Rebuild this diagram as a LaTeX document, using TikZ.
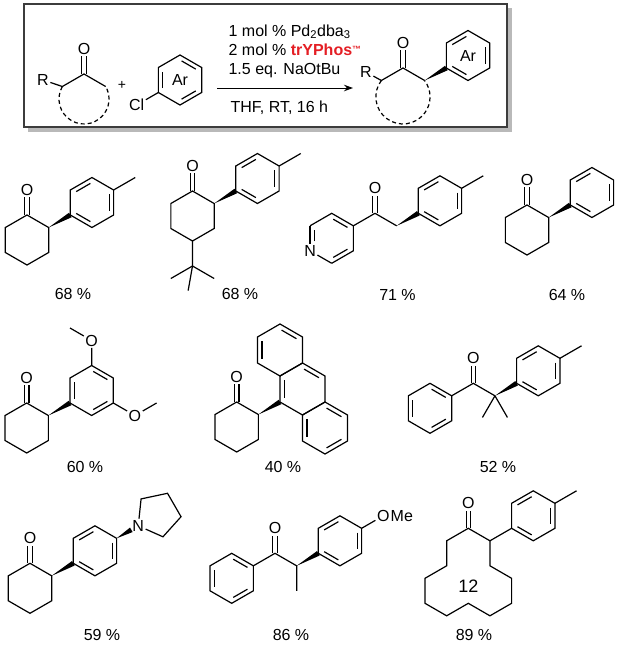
\documentclass[tikz,border=0pt]{standalone}
\usepackage{fontspec}
\setmainfont{Liberation Sans}
\usetikzlibrary{calc,arrows.meta}
\definecolor{tred}{RGB}{228,30,36}
\definecolor{boxline}{RGB}{60,60,60}
\definecolor{shadowc}{RGB}{185,185,185}
\newcommand\hexa[4]{%
 \coordinate (#1c) at (#2,#3);
 \coordinate (#11) at ($(#1c)+(-90:#4)$);
 \coordinate (#12) at ($(#1c)+(-30:#4)$);
 \coordinate (#13) at ($(#1c)+(30:#4)$);
 \coordinate (#14) at ($(#1c)+(90:#4)$);
 \coordinate (#15) at ($(#1c)+(150:#4)$);
 \coordinate (#16) at ($(#1c)+(210:#4)$);}
\newcommand\hring[1]{\draw (#11)--(#12)--(#13)--(#14)--(#15)--(#16)--cycle;}
\newcommand\arin[3]{\draw[shorten <=1.8pt,shorten >=1.8pt] ($(#3)!0.8!(#1)$) -- ($(#3)!0.8!(#2)$);}
\newcommand\ringA[1]{\arin{#16}{#11}{#1c}\arin{#12}{#13}{#1c}\arin{#14}{#15}{#1c}}
\newcommand\ringB[1]{\arin{#15}{#16}{#1c}\arin{#11}{#12}{#1c}\arin{#13}{#14}{#1c}}
\newcommand\wdg[2]{\fill (#1) -- ($(#2)!2.6pt!90:(#1)$) -- ($(#2)!2.6pt!-90:(#1)$) -- cycle;}
\newcommand\cdbl[2]{\draw ($(#1)+(-2.2,0)$) -- ($(#2.south)+(-2.2,0)$); \draw ($(#1)+(2.2,0)$) -- ($(#2.south)+(2.2,0)$);}
\begin{document}
\begin{tikzpicture}[x=1pt,y=-1pt,line width=1.2pt,
  every node/.style={font=\fontsize{16}{19}\selectfont,inner sep=1pt},
  yield/.style={font=\fontsize{16}{19}\selectfont},
  dashring/.style={dash pattern=on 4pt off 3pt}]
\useasboundingbox (0,0) rectangle (620,649);
% ---------- box ----------
\fill[shadowc] (28,127) rectangle (512,132);
\fill[shadowc] (507,8) rectangle (512,132);
\draw[boxline] (24,4) rectangle (507,127);
% reactant ketone
\coordinate (rc) at (84,74);
\node (ro) at (84,49) {O};
\cdbl{rc}{ro}
\coordinate (rl) at ($(rc)+(150:25)$);
\coordinate (rr) at ($(rc)+(30:25)$);
\node (rR) at (43,80) {R};
\draw (rR) -- (rl) -- (rc) -- (rr);
\draw[dashring] (rl) arc[start angle=210,end angle=-30,radius=25];
\node (plus) at (122,85) {\fontsize{14}{14}\selectfont +};
% chlorobenzene
\hexa{cb}{180}{80}{25}
\hring{cb}\ringB{cb}
\node (cl) at ($(cb5)+(150:25)$) {Cl};
\draw (cb5) -- (cl);
\node (arA) at (cbc) {Ar};
% arrow and conditions
\coordinate (arrS) at (217,88);
\coordinate (arrE) at (353,88);
\draw[line width=1pt,-{Stealth[length=9pt,width=6.5pt]}] (arrS) -- (arrE);
\node[anchor=base west] (t1) at (227,36) {1 mol \% Pd\textsubscript{2}dba\textsubscript{3}};
\node[anchor=base west] (t2) at (227,55) {2 mol \% \textcolor{tred}{\textbf{trYPhos}\raisebox{3pt}{\fontsize{9}{9}\selectfont\textbf{™}}}};
\node[anchor=base west] (t3) at (227,74) {1.5 eq. NaOtBu};
\node[anchor=base west] (t4) at (229,112.5) {THF, RT, 16 h};
% product
\coordinate (pc0) at (403,68);
\node (po) at (403,43) {O};
\cdbl{pc0}{po}
\coordinate (pl) at ($(pc0)+(150:25)$);
\coordinate (pr) at ($(pc0)+(30:25)$);
\node (pR) at (366,72) {R};
\draw (pR) -- (pl) -- (pc0) -- (pr);
\draw[dashring] (pl) arc[start angle=217.15,end angle=-37.15,radius=27.1];
\hexa{pa}{468}{55.5}{25}
\hring{pa}\ringA{pa}
\wdg{pr}{pa5}
\node (arB) at (pac) {Ar};
% ---------- compound 1 ----------
\hexa{p}{27}{240}{25}\hring{p}
\node (o1) at (27,190) {O}; \cdbl{p1}{o1}
\hexa{q}{91.95}{202.5}{25}\hring{q}\ringA{q}
\wdg{p2}{q5}
\coordinate (m1) at ($(q2)+(-30:25)$); \draw (q2) -- (m1);
\node[yield] (y1) at (73,294) {68 \%};
% ---------- compound 2 ----------
\hexa{r}{192.5}{216}{25}\hring{r}
\node (o2) at (192.5,166) {O}; \cdbl{r1}{o2}
\hexa{s}{257.45}{178.5}{25}\hring{s}\ringA{s}
\wdg{r2}{s5}
\coordinate (m2) at ($(s2)+(-30:25)$); \draw (s2) -- (m2);
\coordinate (tb) at ($(r4)+(90:25)$);
\coordinate (tb1) at ($(tb)+(150:25)$);
\coordinate (tb2) at ($(tb)+(30:25)$);
\coordinate (tb3) at ($(tb)+(100:25)$);
\draw (r4) -- (tb) -- (tb1); \draw (tb) -- (tb2); \draw (tb) -- (tb3);
\node[yield] (y2) at (240,294) {68 \%};
% ---------- compound 3 ----------
\coordinate (c3) at (375,213.3);
\node (o3) at (375,188.3) {O}; \cdbl{c3}{o3}
\coordinate (pyc) at (331.7,238.3);
\coordinate (py1) at (331.7,213.3);
\coordinate (py2) at (353.35,225.8);
\coordinate (py3) at (353.35,250.8);
\coordinate (py4) at (331.7,263.3);
\coordinate (py5) at (310.05,250.8);
\coordinate (py6) at (310.05,225.8);
\node (n3) at (py5) {N};
\draw (py4) -- (py3) -- (py2) -- (py1) -- (py6);
\draw (py6) -- (n3);
\draw (n3) -- (py4);
\arin{py1}{py2}{pyc}\arin{py3}{py4}{pyc}
\draw[shorten <=7pt,shorten >=1.8pt] ($(pyc)!0.8!(py5)$) -- ($(pyc)!0.8!(py6)$);
\draw (py2) -- (c3);
\coordinate (ch2) at ($(c3)+(30:25)$); \draw (c3) -- (ch2);
\hexa{v}{439.95}{200.8}{25}\hring{v}\ringA{v}
\wdg{ch2}{v5}
\coordinate (m3) at ($(v2)+(-30:25)$); \draw (v2) -- (m3);
\node[yield] (y3) at (397.5,295) {71 \%};
% ---------- compound 4 ----------
\hexa{w}{527}{230}{25}\hring{w}
\node (o4) at (527,180) {O}; \cdbl{w1}{o4}
\hexa{x}{591.95}{192.5}{25}\hring{x}\ringA{x}
\wdg{w2}{x5}
\node[yield] (y4) at (567,295) {64 \%};
% ---------- compound 5 ----------
\hexa{a}{26.7}{428}{25}\hring{a}
\node (o5) at (26.7,378) {O}; \cdbl{a1}{o5}
\hexa{b}{91.65}{390.5}{25}\hring{b}\ringB{b}
\wdg{a2}{b5}
\node (o5a) at ($(b1)+(-90:25)$) {O};
\coordinate (m5a) at ($(o5a)+(210:25)$);
\draw (b1) -- (o5a) -- (m5a);
\node (o5b) at ($(b3)+(30:25)$) {O};
\coordinate (m5b) at ($(o5b)+(-30:25)$);
\draw (b3) -- (o5b) -- (m5b);
\node[yield] (y5) at (85,467) {60 \%};
% ---------- compound 6 ----------
\hexa{d}{236.7}{427}{25}\hring{d}
\node (o6) at (236.7,377) {O}; \cdbl{d1}{o6}
\hexa{tt}{280}{350}{26}\hring{tt}
\hexa{mm}{302.5}{389}{26}\hring{mm}
\hexa{bb}{325}{428}{26}\hring{bb}
\arin{tt5}{tt6}{ttc}\arin{tt1}{tt2}{ttc}
\arin{mm5}{mm6}{mmc}\arin{mm1}{mm2}{mmc}
\ringB{bb}
\wdg{d2}{mm5}
\node[yield] (y6) at (283,467) {40 \%};
% ---------- compound 7 ----------
\coordinate (c7) at (473.3,383.3);
\node (o7) at (473.3,358.3) {O}; \cdbl{c7}{o7}
\hexa{e}{430}{408.3}{25}\hring{e}\ringB{e}
\coordinate (q7) at ($(c7)+(30:25)$);
\draw (e2) -- (c7) -- (q7);
\coordinate (m7a) at ($(q7)+(60:25)$);
\coordinate (m7b) at ($(q7)+(120:25)$);
\draw (q7) -- (m7a); \draw (q7) -- (m7b);
\hexa{f}{538.25}{370.8}{25}\hring{f}\ringA{f}
\wdg{q7}{f5}
\coordinate (m7) at ($(f2)+(-30:25)$); \draw (f2) -- (m7);
\node[yield] (y7) at (498,467) {52 \%};
% ---------- compound 8 ----------
\hexa{g}{30}{588.3}{25}\hring{g}
\node (o8) at (30,538.3) {O}; \cdbl{g1}{o8}
\hexa{h}{94.95}{550.8}{25}\hring{h}\ringA{h}
\wdg{g2}{h5}
\node (n8) at ($(h2)+(-30:25)$) {N};
\coordinate (nw) at ($(h2)!0.68!(n8)$);
\wdg{h2}{nw}
\coordinate (pnc) at ($(n8)+(-30:23)$);
\coordinate (pn1) at ($(pnc)+(222:23)$);
\coordinate (pn2) at ($(pnc)+(294:23)$);
\coordinate (pn3) at ($(pnc)+(6:23)$);
\coordinate (pn4) at ($(pnc)+(78:23)$);
\draw (n8) -- (pn1) -- (pn2) -- (pn3) -- (pn4) -- (n8);
\node[yield] (y8) at (102,635) {59 \%};
% ---------- compound 9 ----------
\coordinate (c9) at (275,553.3);
\node (o9) at (275,528.3) {O}; \cdbl{c9}{o9}
\hexa{i}{231.7}{578.3}{25}\hring{i}\ringB{i}
\coordinate (h9) at ($(c9)+(30:25)$);
\coordinate (m9) at ($(h9)+(90:25)$);
\draw (i2) -- (c9) -- (h9) -- (m9);
\hexa{j}{339.95}{540.8}{25}\hring{j}\ringA{j}
\wdg{h9}{j5}
\node (o9m) at ($(j2)+(-30:25)$) {O};
\node[anchor=base west,inner sep=0pt,xshift=-1pt] (me9) at (o9m.base east) {Me};
\draw (j2) -- (o9m);
\node[yield] (y9) at (291,635) {86 \%};
% ---------- compound 10 ----------
\coordinate (k1) at (468.3,528.3);
\node (o10) at (468.3,503.3) {O}; \cdbl{k1}{o10}
\coordinate (k2) at ($(k1)+(30:25)$);
\coordinate (k3) at ($(k2)+(90:25)$);
\coordinate (k4) at ($(k3)+(30:25)$);
\coordinate (k5) at ($(k4)+(90:25)$);
\coordinate (k6) at ($(k5)+(150:25)$);
\coordinate (k7) at ($(k6)+(210:25)$);
\coordinate (k8) at ($(k7)+(150:25)$);
\coordinate (k9) at ($(k8)+(210:25)$);
\coordinate (k10) at ($(k9)+(-90:25)$);
\coordinate (k11) at ($(k10)+(-30:25)$);
\coordinate (k12) at ($(k11)+(-90:25)$);
\draw (k1)--(k2)--(k3)--(k4)--(k5)--(k6)--(k7)--(k8)--(k9)--(k10)--(k11)--(k12)--cycle;
\hexa{l}{533.25}{515.8}{25}\hring{l}\ringA{l}
\draw (k2) -- (l5);
\coordinate (m10) at ($(l2)+(-30:25)$); \draw (l2) -- (m10);
\node[font=\fontsize{18}{20}\selectfont] (n12) at (468.3,586.7) {12};
\node[yield] (y10) at (474,635) {89 \%};
\end{tikzpicture}
\end{document}
